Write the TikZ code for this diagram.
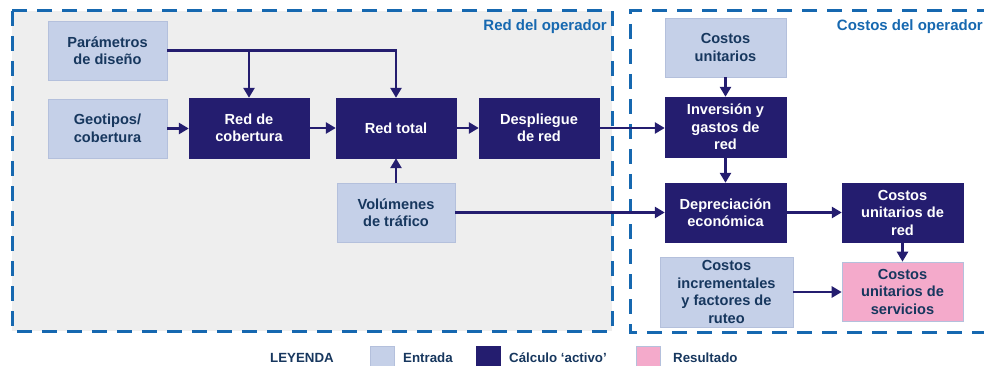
\documentclass[tikz,border=0pt]{standalone}
\usepackage{fontspec}
\setmainfont{Liberation Sans}
\usetikzlibrary{arrows.meta}
\definecolor{navy}{RGB}{36,29,111}
\definecolor{lightin}{RGB}{197,208,232}
\definecolor{lightbd}{RGB}{180,192,220}
\definecolor{pinkres}{RGB}{244,170,203}
\definecolor{panelgray}{RGB}{238,238,238}
\definecolor{dashblue}{RGB}{22,104,176}
\definecolor{darktext}{RGB}{23,55,94}
\tikzset{
  boxfont/.style={font=\fontsize{14.6}{17.5}\selectfont\bfseries},
  inbox/.style={rectangle, fill=lightin, draw=lightbd, line width=0.6pt, text=darktext, boxfont, align=center, inner sep=0pt},
  calcbox/.style={rectangle, fill=navy, draw=navy, text=white, boxfont, align=center, inner sep=0pt},
  resbox/.style={rectangle, fill=pinkres, draw=lightbd, line width=0.6pt, text=darktext, boxfont, align=center, inner sep=0pt},
  arr/.style={draw=navy, line width=2.5pt, -{Triangle[length=10pt,width=11pt]}},
  panel/.style={draw=dashblue, line width=3pt, dash pattern=on 15pt off 10pt},
  paneltitle/.style={text=dashblue, font=\fontsize{15}{17}\selectfont\bfseries, inner sep=0pt},
  legtext/.style={text=darktext, font=\fontsize{13.3}{16}\selectfont\bfseries, inner sep=0pt, anchor=west},
  legbox/.style={rectangle, draw=lightbd, line width=0.6pt, minimum width=24pt, minimum height=24pt, inner sep=0pt, anchor=north west}
}
\begin{document}
\begin{tikzpicture}[x=1pt,y=-1pt]
\useasboundingbox (0,0) rectangle (984,366);
% panels
\fill[panelgray] (12,11) rectangle (612,331);
\draw[panel] (12,11) rectangle (612,331);
\draw[panel] (992,11) -- (630,11) -- (630,332) -- (992,332);
\node[paneltitle, anchor=east] (t1) at (607,27) {Red del operador};
\node[paneltitle, anchor=east] (t2) at (983,27) {Costos del operador};
% nodes
\node[inbox, minimum width=119pt, minimum height=59pt] (par) at (107.5,50.5) {Parámetros\\de diseño};
\node[inbox, minimum width=119pt, minimum height=59pt] (geo) at (107.5,128.5) {Geotipos/\\cobertura};
\node[calcbox, minimum width=120pt, minimum height=60pt] (rc) at (249,128) {Red de\\cobertura};
\node[calcbox, minimum width=120pt, minimum height=60pt] (rt) at (396,128) {Red total};
\node[calcbox, minimum width=120pt, minimum height=60pt] (des) at (539,128) {Despliegue\\de red};
\node[inbox, minimum width=118pt, minimum height=59pt] (vol) at (396,212.5) {Volúmenes\\de tráfico};
\node[inbox, minimum width=121pt, minimum height=59pt] (cu) at (725.5,47.5) {Costos\\unitarios};
\node[calcbox, minimum width=121pt, minimum height=60pt] (inv) at (725.5,127) {Inversión y\\gastos de\\red};
\node[calcbox, minimum width=121pt, minimum height=59pt] (dep) at (725.5,212.5) {Depreciación\\económica};
\node[calcbox, minimum width=121pt, minimum height=59pt] (cur) at (902.5,212.5) {Costos\\unitarios de\\red};
\node[inbox, minimum width=133pt, minimum height=70pt] (ci) at (726.5,292) {Costos\\incrementales\\y factores de\\ruteo};
\node[resbox, minimum width=121pt, minimum height=59pt] (cus) at (902.5,291.5) {Costos\\unitarios de\\servicios};
% connectors
\draw[arr] (par.east) -| (rc.north);
\draw[arr] (par.east) -| (rt.north);
\draw[arr] (geo.east) -- (geo.east -| rc.west);
\draw[arr] (rc.east) -- (rt.west);
\draw[arr] (rt.east) -- (des.west);
\draw[arr] (des.east) -- (des.east -| inv.west);
\draw[arr] (vol.north) -- (rt.south);
\draw[arr] (vol.east) -- (dep.west);
\draw[arr] (cu.south) -- (inv.north);
\draw[arr] (inv.south) -- (dep.north);
\draw[arr] (dep.east) -- (cur.west);
\draw[arr] (cur.south) -- (cus.north);
\draw[arr] (ci.east) -- (ci.east -| cus.west);
% legend
\node[legtext] (ley) at (270,358) {LEYENDA};
\node[legbox, fill=lightin] (lb1) at (370,346) {};
\node[legtext] (lt1) at (403,358) {Entrada};
\node[legbox, fill=navy, draw=navy] (lb2) at (476,346) {};
\node[legtext] (lt2) at (509,358) {Cálculo ‘activo’};
\node[legbox, fill=pinkres] (lb3) at (636,346) {};
\node[legtext] (lt3) at (673,358) {Resultado};
\end{tikzpicture}
\end{document}
